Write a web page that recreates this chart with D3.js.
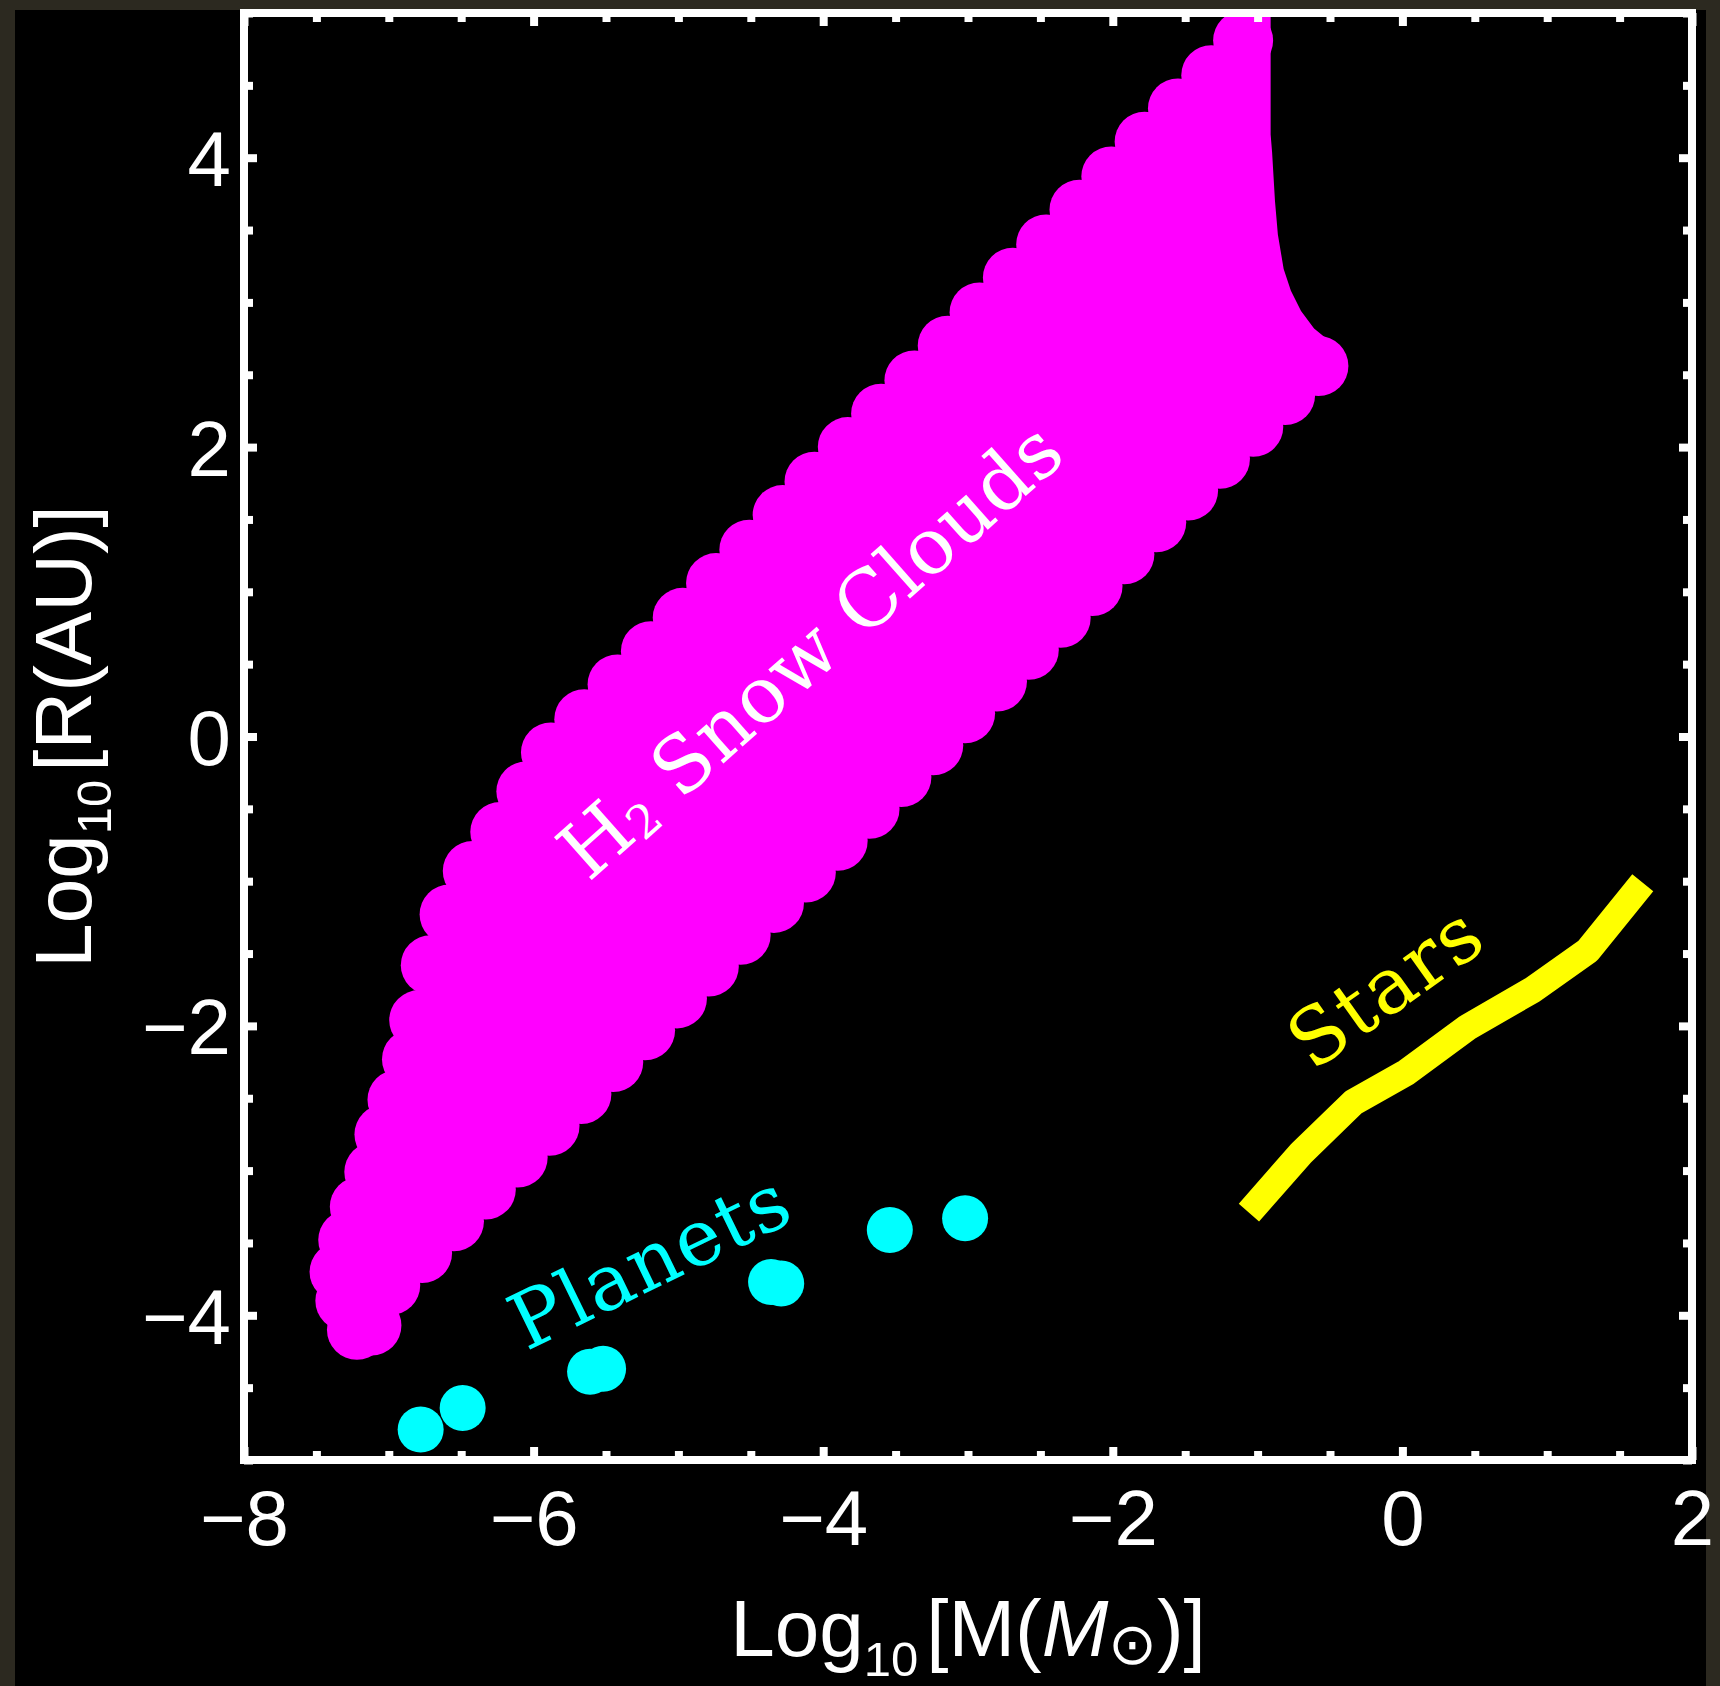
<!DOCTYPE html>
<html>
<head>
<meta charset="utf-8">
<title>Log M - Log R</title>
<script src="https://cdn.jsdelivr.net/npm/d3@7/dist/d3.min.js"></script>
<style>
  body { margin: 0; background: #000; }
  svg { display: block; }
</style>
</head>
<body>
<div id="chart"></div>
<script>
// H2 snow cloud region, disc centres read along its edge (log10 M, log10 R)
const cloudUpperM = [-1.10, -1.32, -1.55, -1.78, -2.01, -2.23, -2.46, -2.69, -2.92, -3.14, -3.37,
    -3.60, -3.83, -4.06, -4.28, -4.51, -4.74, -4.97, -5.19, -5.42, -5.65, -5.88,
    -6.05, -6.23, -6.42, -6.58, -6.71, -6.79, -6.84, -6.94, -7.03, -7.10, -7.20, -7.28, -7.34];
const cloudUpperR = [4.81, 4.57, 4.34, 4.11, 3.87, 3.64, 3.40, 3.17, 2.93, 2.70, 2.46,
    2.23, 2.00, 1.76, 1.53, 1.29, 1.06, 0.82, 0.59, 0.36, 0.12, -0.11,
    -0.38, -0.66, -0.93, -1.23, -1.58, -1.96, -2.23, -2.51, -2.75, -3.01, -3.25, -3.48, -3.70];
const cloudTipM = [-7.30, -7.22, -7.12];
const cloudTipR = [-3.90, -4.10, -4.07];
const cloudLowerM = [-6.99, -6.77, -6.55, -6.33, -6.11, -5.89, -5.67, -5.45, -5.23, -5.01,
    -4.79, -4.57, -4.34, -4.12, -3.90, -3.68, -3.46, -3.24, -3.02, -2.80,
    -2.58, -2.36, -2.14, -1.92, -1.70, -1.48, -1.26, -1.03, -0.81, -0.58];
const cloudLowerR = [-3.79, -3.57, -3.35, -3.13, -2.91, -2.69, -2.47, -2.25, -2.03, -1.81,
    -1.59, -1.37, -1.15, -0.94, -0.72, -0.50, -0.28, -0.06, 0.16, 0.38,
    0.60, 0.82, 1.04, 1.26, 1.48, 1.70, 1.92, 2.14, 2.36, 2.56];
// smooth right hand side of the region (no discs here)
const cloudRightM = [-1.10, -0.91, -0.91, -0.90, -0.88, -0.86, -0.82, -0.77, -0.70, -0.61, -0.50];
const cloudRightR = [5.3, 5.3, 4.16, 4.04, 3.70, 3.47, 3.23, 3.08, 2.94, 2.82, 2.73];

// solar system planets
const planetM = [-6.78, -6.49, -5.61, -5.52, -4.36, -4.29, -3.54, -3.02];
const planetR = [-4.79, -4.64, -4.39, -4.37, -3.77, -3.78, -3.41, -3.33];

// main sequence stars
const starM = [-1.06, -0.70, -0.34, 0.03, 0.45, 0.90, 1.28, 1.66];
const starR = [-3.29, -2.88, -2.53, -2.32, -2.01, -1.75, -1.48, -1.01];

const xTicks = [-8, -6, -4, -2, 0, 2];
const yTicks = [-4, -2, 0, 2, 4];

const width = 1720, height = 1686;
const magenta = "#ff00ff", cyan = "#00ffff", yellow = "#ffff00";

const x = d3.scaleLinear().domain([-8, 2]).range([244, 1692]);
const y = d3.scaleLinear().domain([-5, 5]).range([1460, 13]);

const pts = (ms, rs) => ms.map((m, i) => [m, rs[i]]);
const fmt = d => d < 0 ? "\u2212" + (-d) : String(d);

const svg = d3.select("#chart").append("svg")
    .attr("width", width).attr("height", height);

// dark photo border round the black figure
svg.append("rect").attr("width", width).attr("height", height).attr("fill", "#2c2920");
svg.append("rect").attr("x", 15).attr("y", 10)
    .attr("width", 1691).attr("height", height - 10).attr("fill", "#000");

svg.append("clipPath").attr("id", "plot-clip")
    .append("rect")
    .attr("x", x(-8)).attr("y", y(5))
    .attr("width", x(2) - x(-8)).attr("height", y(-5) - y(5));

const plot = svg.append("g").attr("clip-path", "url(#plot-clip)");

// cloud region = polygon through the edge discs + the discs themselves
const outline = [
    ...pts(cloudRightM, cloudRightR),
    ...pts(cloudLowerM, cloudLowerR).reverse(),
    ...pts(cloudTipM, cloudTipR).reverse(),
    ...pts(cloudUpperM, cloudUpperR).reverse()
];
const line = d3.line().x(d => x(d[0])).y(d => y(d[1]));

plot.append("path").attr("d", line(outline) + "Z").attr("fill", magenta);

const discs = [...pts(cloudUpperM, cloudUpperR), ...pts(cloudTipM, cloudTipR), ...pts(cloudLowerM, cloudLowerR)];
plot.selectAll("circle.cloud").data(discs).enter().append("circle")
    .attr("class", "cloud")
    .attr("cx", d => x(d[0])).attr("cy", d => y(d[1]))
    .attr("r", 30).attr("fill", magenta);

plot.selectAll("circle.planet").data(pts(planetM, planetR)).enter().append("circle")
    .attr("class", "planet")
    .attr("cx", d => x(d[0])).attr("cy", d => y(d[1]))
    .attr("r", 23).attr("fill", cyan);

plot.append("path")
    .attr("d", line(pts(starM, starR)))
    .attr("fill", "none").attr("stroke", yellow)
    .attr("stroke-width", 27).attr("stroke-linejoin", "round").attr("stroke-linecap", "butt");

// labels
const labelFont = "'DejaVu Serif', serif";

const snow = svg.append("text")
    .attr("transform", `translate(${x(-5.62)},${y(-1.01)}) rotate(-41.5)`)
    .attr("font-family", labelFont).attr("font-size", 78).attr("fill", "#fff")
    .attr("textLength", 640).attr("lengthAdjust", "spacing");
snow.append("tspan").text("H");
snow.append("tspan").attr("font-size", 46).attr("dy", 6).text("2");
snow.append("tspan").attr("dy", -6).text(" Snow Clouds");

const labels = [
    {text: "Planets", m: -6.05, r: -4.25, angle: -26, len: 300, color: cyan},
    {text: "Stars", m: -0.62, r: -2.32, angle: -35.5, len: 216, color: yellow}
];
svg.selectAll("text.lab").data(labels).enter().append("text")
    .attr("class", "lab")
    .attr("transform", d => `translate(${x(d.m)},${y(d.r)}) rotate(${d.angle})`)
    .attr("font-family", labelFont).attr("font-size", 78)
    .attr("fill", d => d.color)
    .attr("textLength", d => d.len).attr("lengthAdjust", "spacing")
    .text(d => d.text);

// frame and ticks
const minorX = d3.range(-8, 2.001, 0.5).filter(v => v % 2 !== 0);
const minorY = d3.range(-5, 5.001, 0.5).filter(v => v % 2 !== 0);

const axes = svg.append("g");
const addAxis = (axis, tx, ty) => {
    const g = axes.append("g").attr("transform", `translate(${tx},${ty})`).call(axis);
    g.select(".domain").remove();
    g.selectAll(".tick line").attr("stroke", "#fff").attr("stroke-width", 8);
    g.attr("font-family", "'Liberation Sans', Arial, sans-serif").attr("font-size", 78);
    g.selectAll(".tick text").attr("fill", "#fff");
    return g;
};

addAxis(d3.axisBottom(x).tickValues(xTicks).tickSize(-13).tickPadding(30).tickFormat(fmt), 0, y(-5));
addAxis(d3.axisBottom(x).tickValues(minorX).tickSize(-9).tickFormat(""), 0, y(-5));
addAxis(d3.axisTop(x).tickValues(xTicks).tickSize(-13).tickFormat(""), 0, y(5));
addAxis(d3.axisTop(x).tickValues(minorX).tickSize(-9).tickFormat(""), 0, y(5));
addAxis(d3.axisLeft(y).tickValues(yTicks).tickSize(-13).tickPadding(13).tickFormat(fmt), x(-8), 0)
    .selectAll(".tick text").attr("dy", "0.36em");
addAxis(d3.axisLeft(y).tickValues(minorY).tickSize(-9).tickFormat(""), x(-8), 0);
addAxis(d3.axisRight(y).tickValues(yTicks).tickSize(-13).tickFormat(""), x(2), 0);
addAxis(d3.axisRight(y).tickValues(minorY).tickSize(-9).tickFormat(""), x(2), 0);

axes.append("rect")
    .attr("x", x(-8)).attr("y", y(5))
    .attr("width", x(2) - x(-8)).attr("height", y(-5) - y(5))
    .attr("fill", "none").attr("stroke", "#fff").attr("stroke-width", 8);

// axis titles
const titleFont = "'Liberation Sans', Arial, sans-serif";
const xt = svg.append("text")
    .attr("x", (x(-8) + x(2)) / 2).attr("y", 1656)
    .attr("text-anchor", "middle")
    .attr("font-family", titleFont).attr("font-size", 80).attr("fill", "#fff");
xt.append("tspan").text("Log");
xt.append("tspan").attr("font-size", 49).attr("dy", 20).text("10");
xt.append("tspan").attr("dy", -20).attr("dx", 8).text("[M(");
xt.append("tspan").attr("font-style", "italic").text("M");
xt.append("tspan").attr("font-size", 58).attr("dy", 8).attr("font-family", "'DejaVu Sans', sans-serif").text("\u2299");
xt.append("tspan").attr("dy", -8).text(")]");

const yt = svg.append("text")
    .attr("transform", `translate(91,${(y(5) + y(-5)) / 2}) rotate(-90)`)
    .attr("text-anchor", "middle")
    .attr("font-family", titleFont).attr("font-size", 80).attr("fill", "#fff");
yt.append("tspan").text("Log");
yt.append("tspan").attr("font-size", 49).attr("dy", 20).text("10");
yt.append("tspan").attr("dy", -20).attr("dx", 8).text("[R(AU)]");
</script>
</body>
</html>
